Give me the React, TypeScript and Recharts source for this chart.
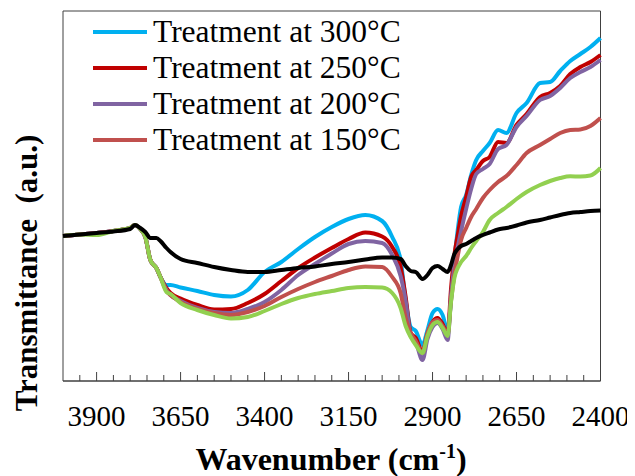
import React from "react";
import { LineChart, Line, XAxis, YAxis, ReferenceArea, Legend } from "recharts";

// wavenumber grid (cm-1)
const wavenumbers = [
  4000, 3950, 3900, 3850, 3800, 3786, 3770, 3755, 3740, 3722, 3710, 3692, 3680, 3650, 3600, 3550, 3500, 3450, 3400,
  3350, 3300, 3250, 3200, 3150, 3100, 3050, 3020, 2995, 2980, 2965, 2950, 2930, 2915, 2900, 2885, 2870, 2855, 2845,
  2835, 2825, 2815, 2800, 2785, 2770, 2750, 2730, 2705, 2680, 2650, 2620, 2580, 2550, 2520, 2490, 2460, 2430, 2400,
];

// transmittance, arbitrary units
const t300 = [
  145, 146.5, 148, 150, 153, 156, 152, 144, 121, 113, 104, 96, 96, 93.5, 90, 86, 84.5, 91, 109, 119, 132, 144, 154,
  162, 166, 160, 144, 121, 81, 54, 50, 36, 51, 68, 72, 66, 50, 81, 121, 151, 174, 186, 206, 221, 230, 238, 251, 248,
  268, 278, 298, 299, 310, 320, 327, 334, 343,
];
const t250 = [
  145, 146.5, 148, 150, 153, 156, 152, 144, 121, 113, 104, 93, 88, 82.5, 76, 71.5, 72, 78, 87, 100, 113, 123.5, 133,
  142, 148.5, 144.5, 134, 114, 84, 48, 43, 29, 47, 59, 63, 57, 47, 92, 126, 146, 165, 184, 204, 211, 220, 224, 239,
  238, 256, 267, 284, 288, 295, 307, 314, 319, 326,
];
const t200 = [
  145, 146.5, 148, 150, 153, 156, 152, 144, 121, 113, 104, 91, 86, 80, 73, 69, 68, 72, 79, 91, 106, 117, 127.5, 137,
  140, 138, 126, 105, 80, 45, 39, 21, 42, 54, 58, 52, 41, 85, 115, 134, 150, 172, 192, 207, 212, 217, 232, 236, 254,
  265, 281, 285, 293, 303, 309, 314, 321,
];
const t150 = [
  145, 146.5, 148, 150, 153, 156, 152, 144, 121, 113, 104, 90, 86, 79, 72, 68, 66, 69, 75, 84, 92, 99, 105, 111,
  114.5, 114, 104, 88, 63, 48, 40, 28, 48, 59, 61, 55, 47, 80, 106, 125, 141, 153, 164, 172, 183, 191, 199, 205, 216,
  228, 236, 242, 248, 251, 251.5, 255, 263,
];
const green = [
  145, 146.5, 146, 150, 153, 156, 152, 144, 121, 113, 104, 89, 87, 78, 71, 66, 62.5, 64, 70, 77, 83, 87, 90, 93, 94,
  93.5, 88, 73, 55, 44, 36, 28, 45, 56, 59, 53, 45, 79, 103, 113, 119, 125, 133, 140, 149, 161, 168, 174, 182, 189,
  196, 200, 203, 204.7, 204.5, 205.5, 213,
];
const black = [
  145, 146.5, 148, 149.5, 152, 156, 153, 149, 143, 143, 140, 133, 129, 122, 118, 114, 111, 109, 109, 111, 113, 114.5,
  117, 119, 121.5, 123.5, 123.5, 122, 115, 110, 109, 102, 106, 113, 115, 112, 109, 116, 127, 132, 135, 137, 140, 143,
  146, 148.5, 151.5, 153, 155.5, 158.5, 161, 163.5, 166, 168, 169, 170, 170.5,
];

const tickLabels = [3900, 3650, 3400, 3150, 2900, 2650, 2400];
const minorTicks = Array.from({ length: 32 }, (_, i) => 3950 - i * 50);

const series = [
  { key: "t300", name: "Treatment at 300°C", color: "#00b0f0", values: t300, legend: true },
  { key: "t250", name: "Treatment at 250°C", color: "#c00000", values: t250, legend: true },
  { key: "t200", name: "Treatment at 200°C", color: "#8064a2", values: t200, legend: true },
  { key: "t150", name: "Treatment at 150°C", color: "#c0504d", values: t150, legend: true },
  { key: "green", name: "green", color: "#92d050", values: green, legend: false },
  { key: "black", name: "black", color: "#000000", values: black, legend: false },
];

const data = wavenumbers.map((w, i) => {
  const row: any = { w };
  series.forEach((s) => (row[s.key] = s.values[i]));
  return row;
});

const FONT = "Liberation Serif";

const WaveTick = (props: any) => {
  const { x, y, payload } = props;
  const major = tickLabels.includes(payload.value);
  return (
    <g>
      <line x1={x} x2={x} y1={y} y2={y - (major ? 9 : 6)} stroke="#404040" strokeWidth={1} />
      {major && (
        <text
          x={x}
          y={y + 45}
          textAnchor="middle"
          fill="#000"
          fontFamily={FONT}
          fontSize={29}
          style={{ fontFamily: FONT, fontSize: 29 }}
        >
          {payload.value}
        </text>
      )}
    </g>
  );
};

const XLabel = () => (
  <text x={323} y={462} textAnchor="middle" fill="#000" style={{ fontFamily: FONT, fontWeight: "bold", fontSize: 32 }}>
    Wavenumber (cm
    <tspan dy={-12} style={{ fontSize: 20 }}>
      -1
    </tspan>
    <tspan dy={12}>)</tspan>
  </text>
);

const YLabel = () => (
  <text
    x={29}
    y={265}
    transform="rotate(-90, 29, 265)"
    textAnchor="middle"
    fill="#000"
    style={{ fontFamily: FONT, fontWeight: "bold", fontSize: 31, whiteSpace: "pre" }}
  >
    {"Transmittance  (a.u.)"}
  </text>
);

const renderLegend = () => (
  <div style={{ fontFamily: FONT, fontSize: 31.5, color: "#000" }}>
    {series
      .filter((s) => s.legend)
      .map((s) => (
        <div
          key={s.key}
          style={{ display: "flex", alignItems: "center", height: 36, lineHeight: "36px", whiteSpace: "nowrap" }}
        >
          <span style={{ display: "inline-block", width: 54, height: 4, background: s.color, marginRight: 6 }} />
          <span>{s.name}</span>
        </div>
      ))}
  </div>
);

export default function App() {
  return (
    <LineChart width={627} height={468} data={data} margin={{ top: 3, right: 34.5, left: 0, bottom: 0 }}>
      <XAxis
        dataKey="w"
        type="number"
        domain={[2400, 4000]}
        reversed
        ticks={minorTicks}
        interval={0}
        tick={<WaveTick />}
        tickLine={false}
        tickSize={0}
        tickMargin={0}
        axisLine={{ stroke: "#404040" }}
        height={95}
        label={<XLabel />}
      />
      <YAxis
        type="number"
        domain={[0, 370]}
        width={55}
        tick={false}
        tickLine={false}
        axisLine={false}
        label={<YLabel />}
      />
      <ReferenceArea x1={2400} x2={4000} y1={0} y2={370} fill="none" stroke="#404040" strokeWidth={1} />
      <Legend
        content={renderLegend}
        layout="horizontal"
        verticalAlign="middle"
        align="center"
        wrapperStyle={{ top: 6, left: 85, width: 370 }}
      />
      {series.map((s) => (
        <Line
          key={s.key}
          dataKey={s.key}
          name={s.name}
          type="monotone"
          stroke={s.color}
          strokeWidth={4}
          dot={false}
          activeDot={false}
          legendType={s.legend ? "line" : "none"}
          isAnimationActive={false}
        />
      ))}
    </LineChart>
  );
}
